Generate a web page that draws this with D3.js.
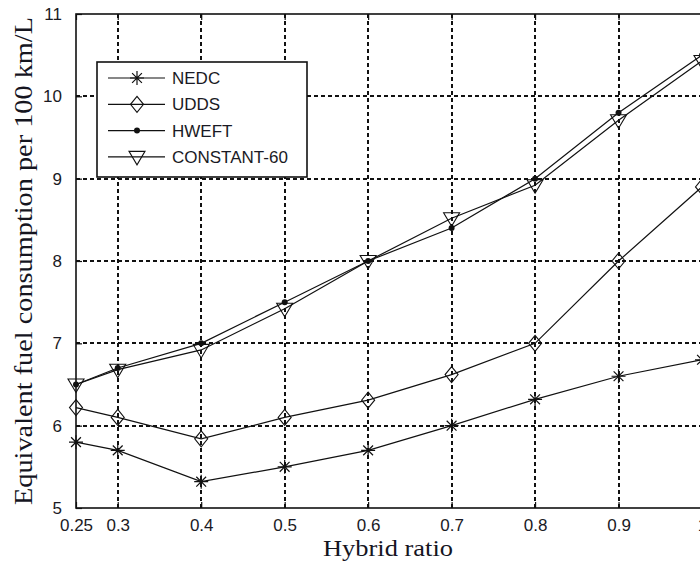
<!DOCTYPE html>
<html lang="en">
<head>
<meta charset="UTF-8">
<title>Equivalent fuel consumption vs hybrid ratio</title>
<script src="https://d3js.org/d3.v7.min.js"></script>
<style>
  body { margin: 0; background: #fff; }
  svg { display: block; }
  .tick-label { font-family: "Liberation Sans", Arial, sans-serif; font-size: 17px; fill: #1a1a24; }
  .axis-title { font-family: "Liberation Serif", "Times New Roman", serif; fill: #15151f; }
  .legend text { font-family: "Liberation Sans", Arial, sans-serif; font-size: 17px; fill: #1a1a24; }
</style>
</head>
<body>
<svg id="chart"></svg>
<script>
  // data
  const hybridRatio = [0.25, 0.3, 0.4, 0.5, 0.6, 0.7, 0.8, 0.9, 1.0];
  const nedc = [5.8, 5.7, 5.32, 5.5, 5.7, 6.0, 6.32, 6.6, 6.8];
  const udds = [6.22, 6.1, 5.84, 6.1, 6.31, 6.62, 7.0, 8.0, 8.9];
  const hweft = [6.5, 6.7, 7.0, 7.5, 8.0, 8.4, 9.0, 9.8, 10.5];
  const constant60 = [6.5, 6.68, 6.92, 7.42, 8.0, 8.52, 8.92, 9.71, 10.43];
  const seriesNames = ["NEDC", "UDDS", "HWEFT", "CONSTANT-60"];
  const xTicks = [0.25, 0.3, 0.4, 0.5, 0.6, 0.7, 0.8, 0.9, 1];
  const yTicks = [5, 6, 7, 8, 9, 10, 11];

  const W = 700, H = 565;
  const plotLeft = 76, plotRight = 702, plotTop = 14, plotBottom = 508;

  const svg = d3.select("#chart").attr("width", W).attr("height", H);

  const x = d3.scaleLinear().domain([0.25, 1]).range([plotLeft, plotRight]);
  const y = d3.scaleLinear().domain([5, 11]).range([plotBottom, plotTop]);

  // grid
  const grid = svg.append("g").attr("stroke", "#111").attr("stroke-width", 1.3)
    .attr("stroke-dasharray", "4,3").attr("shape-rendering", "crispEdges");
  grid.selectAll(".gx").data(xTicks.filter(d => d > 0.25 && d < 1)).enter().append("line")
    .attr("x1", d => Math.round(x(d))).attr("x2", d => Math.round(x(d)))
    .attr("y1", plotTop).attr("y2", plotBottom);
  grid.selectAll(".gy").data(yTicks.filter(d => d > 5 && d < 11)).enter().append("line")
    .attr("y1", d => Math.round(y(d))).attr("y2", d => Math.round(y(d)))
    .attr("x1", plotLeft).attr("x2", plotRight);

  // axes (MATLAB style: ticks inside, box around)
  const xAxisB = d3.axisBottom(x).tickValues(xTicks).tickSizeInner(-6).tickSizeOuter(0)
    .tickPadding(9).tickFormat(d => d === 1 ? "1" : String(d));
  const gxB = svg.append("g").attr("transform", `translate(0,${plotBottom})`).call(xAxisB);
  const gxT = svg.append("g").attr("transform", `translate(0,${plotTop})`)
    .call(d3.axisTop(x).tickValues(xTicks).tickSizeInner(-6).tickSizeOuter(0).tickFormat(""));
  const gyL = svg.append("g").attr("transform", `translate(${plotLeft},0)`)
    .call(d3.axisLeft(y).tickValues(yTicks).tickSizeInner(-6).tickSizeOuter(0).tickPadding(14).tickFormat(d3.format("d")));
  [gxB, gxT, gyL].forEach(g => {
    g.select(".domain").remove();
    g.selectAll(".tick line").attr("stroke", "#111").attr("stroke-width", 1.2);
    g.selectAll(".tick text").attr("class", "tick-label").attr("font-size", null).attr("font-family", null);
  });
  gxB.selectAll(".tick text").attr("dy", "0.85em");

  svg.append("rect").attr("x", plotLeft).attr("y", plotTop)
    .attr("width", plotRight - plotLeft).attr("height", plotBottom - plotTop)
    .attr("fill", "none").attr("stroke", "#111").attr("stroke-width", 1.6);

  // markers
  function marker(g, name) {
    if (name === "NEDC") {
      const r = 7;
      g.append("path").attr("d", `M0,${-r}V${r}M${-r},0H${r}M${-r * 0.7},${-r * 0.7}L${r * 0.7},${r * 0.7}M${-r * 0.7},${r * 0.7}L${r * 0.7},${-r * 0.7}`)
        .attr("stroke", "#111").attr("stroke-width", 1.2).attr("fill", "none");
    } else if (name === "UDDS") {
      g.append("path").attr("d", "M0,-8L6.5,0L0,8L-6.5,0Z")
        .attr("stroke", "#111").attr("stroke-width", 1.1).attr("fill", "none");
    } else if (name === "HWEFT") {
      g.append("circle").attr("r", 3).attr("fill", "#111");
    } else {
      g.append("path").attr("d", "M-8,-5.5H8L0,8Z")
        .attr("stroke", "#111").attr("stroke-width", 1.1).attr("fill", "none");
    }
  }

  const series = [nedc, udds, hweft, constant60];
  const line = d3.line().x((d, i) => x(hybridRatio[i])).y(d => y(d));

  series.forEach((vals, k) => {
    svg.append("path").datum(vals).attr("d", line)
      .attr("fill", "none").attr("stroke", "#111").attr("stroke-width", 1.2);
    vals.forEach((v, i) => {
      const g = svg.append("g").attr("transform", `translate(${x(hybridRatio[i])},${y(v)})`);
      marker(g, seriesNames[k]);
    });
  });

  // legend
  const legend = svg.append("g").attr("class", "legend");
  legend.append("rect").attr("x", 97).attr("y", 62).attr("width", 210).attr("height", 115)
    .attr("fill", "#fff").attr("stroke", "#111").attr("stroke-width", 1.6);
  seriesNames.forEach((name, i) => {
    const ly = 78 + i * 26.3;
    const g = legend.append("g").attr("transform", `translate(0,${ly})`);
    g.append("line").attr("x1", 108).attr("x2", 165).attr("y1", 0).attr("y2", 0)
      .attr("stroke", "#111").attr("stroke-width", 1.2);
    marker(g.append("g").attr("transform", "translate(137,0)"), name);
    g.append("text").attr("x", 172).attr("y", 0).attr("dy", "0.36em").text(name);
  });

  // axis titles
  svg.append("text").attr("class", "axis-title")
    .attr("x", 388).attr("y", 556).attr("text-anchor", "middle")
    .attr("font-size", 24).attr("textLength", 130).attr("lengthAdjust", "spacingAndGlyphs")
    .text("Hybrid ratio");
  svg.append("text").attr("class", "axis-title")
    .attr("transform", "translate(32,261) rotate(-90)").attr("text-anchor", "middle")
    .attr("font-size", 26).attr("textLength", 488).attr("lengthAdjust", "spacingAndGlyphs")
    .text("Equivalent fuel consumption per 100 km/L");
</script>
</body>
</html>
